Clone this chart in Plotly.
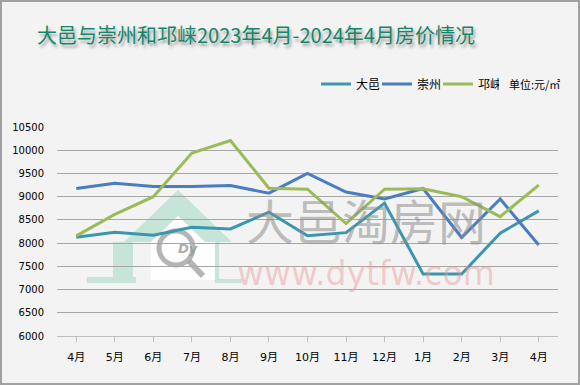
import plotly.graph_objects as go

months = ["4月", "5月", "6月", "7月", "8月", "9月", "10月", "11月", "12月", "1月", "2月", "3月", "4月"]
x_idx = list(range(len(months)))
dayi = [8125, 8235, 8170, 8340, 8305, 8665, 8160, 8225, 8860, 7335, 7335, 8215, 8695]
chongzhou = [9175, 9290, 9220, 9220, 9240, 9075, 9500, 9100, 8950, 9175, 8120, 8950, 7960]
qionglai = [8155, 8620, 9000, 9940, 10210, 9180, 9160, 8420, 9160, 9170, 9000, 8570, 9250]
y_ticks = [6000, 6500, 7000, 7500, 8000, 8500, 9000, 9500, 10000, 10500]
y_labels = [str(v) for v in y_ticks]

W, H = 580, 385
L, R, T, B = 57, 558, 127, 336


def px(x):
    return (x - L) / (R - L)


def py(y):
    return (B - y) / (B - T)


def path(pts):
    return "M " + " L ".join(f"{px(a):.4f},{py(b):.4f}" for a, b in pts) + " Z"


fig = go.Figure()
series = [("大邑", dayi, "#3A97AE"), ("崇州", chongzhou, "#4A7DC0"), ("邛崃", qionglai, "#9BBB59")]
for name, vals, col in series:
    fig.add_trace(go.Scatter(x=x_idx, y=vals, name=name, mode="lines",
                             line=dict(color=col, width=3)))

shapes = []
# outer border of the chart
shapes.append(dict(type="rect", xref="paper", yref="paper", layer="above",
                   x0=px(1), x1=px(W - 1), y0=py(H - 1), y1=py(1),
                   line=dict(color="#A0A0A0", width=2), fillcolor="rgba(0,0,0,0)"))
# watermark house logo (decoration)
shapes.append(dict(type="path", xref="paper", yref="paper", layer="below",
                   path=path([(178, 190), (232, 242), (205, 242), (178, 216), (151, 242), (124, 242)]),
                   fillcolor="rgba(190,225,212,0.85)", line=dict(width=0)))
shapes.append(dict(type="path", xref="paper", yref="paper", layer="below",
                   path=path([(178, 216), (205, 242), (215, 242), (215, 280), (151, 280), (151, 242)]),
                   fillcolor="rgba(255,255,255,0.9)", line=dict(width=0)))
shapes.append(dict(type="path", xref="paper", yref="paper", layer="below",
                   path=path([(113, 242), (133, 242), (133, 277), (136, 277), (136, 283), (87, 283), (87, 277), (113, 277)]),
                   fillcolor="rgba(190,225,212,0.85)", line=dict(width=0)))
shapes.append(dict(type="path", xref="paper", yref="paper", layer="below",
                   path=path([(215, 242), (219, 242), (219, 279), (242, 279), (242, 283), (215, 283)]),
                   fillcolor="rgba(190,225,212,0.85)", line=dict(width=0)))
shapes.append(dict(type="circle", xref="paper", yref="paper", layer="below",
                   x0=px(159), x1=px(193), y0=py(265), y1=py(231),
                   line=dict(color="rgba(150,150,150,0.7)", width=5)))
shapes.append(dict(type="line", xref="paper", yref="paper", layer="below",
                   x0=px(189), y0=py(261), x1=px(203), y1=py(276),
                   line=dict(color="rgba(150,150,150,0.7)", width=6)))

annotations = [
    dict(text="<i><b>Dy</b></i>", xref="paper", yref="paper", x=px(176), y=py(248), showarrow=False,
         font=dict(family="DejaVu Sans", size=13, color="rgba(150,150,150,0.8)")),
    dict(text="大邑淘房网", xref="paper", yref="paper", x=px(366), y=py(219), showarrow=False,
         font=dict(family="Noto Sans CJK SC", size=48, color="rgba(140,140,140,0.55)")),
    dict(text="www.dytfw.com", xref="paper", yref="paper", x=px(366), y=py(295), showarrow=False,
         font=dict(family="DejaVu Sans", size=33, color="rgba(235,150,150,0.45)")),
    dict(text="单位:元/㎡", xref="paper", yref="paper", x=px(507), y=py(84), xanchor="left",
         yanchor="middle", showarrow=False,
         font=dict(family="Noto Sans CJK SC", size=11, color="#000000")),
]

fig.update_layout(
    width=W, height=H,
    margin=dict(l=L, r=W - R, t=T, b=H - B, autoexpand=False),
    paper_bgcolor="#F3F3F3", plot_bgcolor="#F3F3F3",
    title=dict(text="大邑与崇州和邛崃2023年4月-2024年4月房价情况", xref="container", yref="container",
               x=256 / W, y=1 - 36 / H, xanchor="center", yanchor="middle",
               font=dict(family="Noto Sans CJK SC, Noto Sans, sans-serif", size=20, color="#14876A",
                         shadow="2px 3px 3px rgba(0,0,0,0.35)")),
    showlegend=True,
    legend=dict(orientation="h", xref="container", yref="container", x=316 / W, y=1 - 84 / H,
                xanchor="left", yanchor="middle", bgcolor="rgba(0,0,0,0)",
                font=dict(family="Noto Sans CJK SC", size=12, color="#000000"),
                entrywidth=16, itemwidth=30, tracegroupgap=0),
    xaxis=dict(range=[-0.5, len(months) - 0.5], tickmode="array", tickvals=x_idx, ticktext=months,
               showgrid=False, zeroline=False, showline=True, linecolor="#BFBFBF", linewidth=1,
               ticks="outside", tickson="boundaries", ticklen=5, tickcolor="#BFBFBF",
               ticklabelstandoff=6,
               tickfont=dict(family="DejaVu Sans, Noto Sans CJK SC", size=11, color="#000000")),
    yaxis=dict(range=[6000, 10500], tickmode="array", tickvals=y_ticks, ticktext=y_labels,
               showgrid=True, gridcolor="#A6A6A6", gridwidth=1, zeroline=False, showline=False,
               ticklabelstandoff=12,
               tickfont=dict(family="DejaVu Sans", size=10, color="#000000")),
    shapes=shapes,
    annotations=annotations,
)

fig.write_html("out.html", config={"displayModeBar": False},
               post_script="document.body.style.margin='0';")
